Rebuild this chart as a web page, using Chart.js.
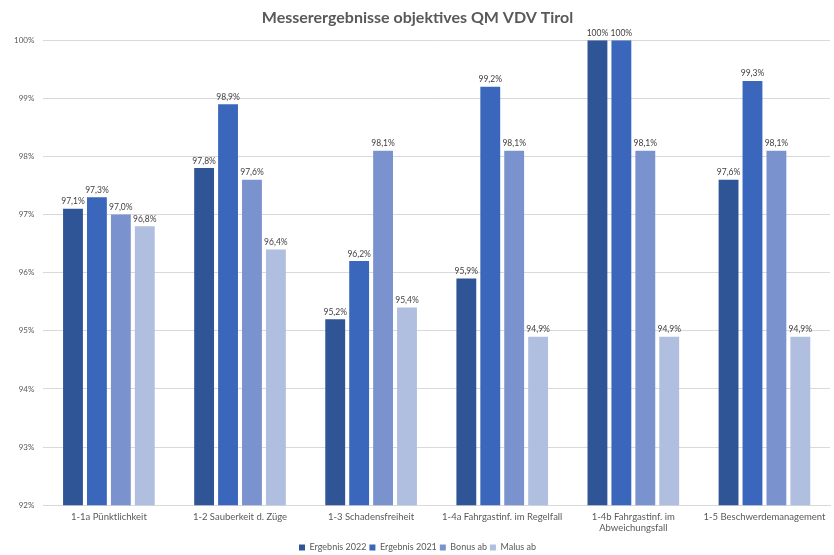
<!DOCTYPE html>
<html>
<head>
<meta charset="utf-8">
<script src="https://cdn.jsdelivr.net/npm/chart.js@4/dist/chart.umd.min.js"></script>
<style>
  html, body { margin: 0; padding: 0; background: #ffffff; }
  #wrap { width: 834px; height: 555px; position: relative; }
</style>
</head>
<body>
<div id="wrap"><canvas id="c"></canvas></div>
<script>
const categories = [
  "1-1a Pünktlichkeit",
  "1-2 Sauberkeit d. Züge",
  "1-3 Schadensfreiheit",
  "1-4a Fahrgastinf. im Regelfall",
  ["1-4b Fahrgastinf. im", "Abweichungsfall"],
  "1-5 Beschwerdemanagement"
];
const seriesNames = ["Ergebnis 2022", "Ergebnis 2021", "Bonus ab", "Malus ab"];
const ergebnis2022 = [97.1, 97.8, 95.2, 95.9, 100, 97.6];
const ergebnis2021 = [97.3, 98.9, 96.2, 99.2, 100, 99.3];
const bonusAb = [97.0, 97.6, 98.1, 98.1, 98.1, 98.1];
const malusAb = [96.8, 96.4, 95.4, 94.9, 94.9, 94.9];
const yTicks = [92, 93, 94, 95, 96, 97, 98, 99, 100];

const colors = ["#2F5597", "#3A67BB", "#7A92CE", "#B0BEE0"];
const FONT = "Lato, 'Open Sans', sans-serif";

// 100 is shown without decimals, everything else with one decimal and a comma
function fmt(v) {
  return (v === 100 ? "100" : v.toFixed(1).replace(".", ",")) + "%";
}

const valueLabels = {
  id: "valueLabels",
  afterDatasetsDraw(chart) {
    const ctx = chart.ctx;
    ctx.save();
    ctx.font = "8.5px " + FONT;
    ctx.fillStyle = "#404040";
    ctx.textAlign = "center";
    ctx.textBaseline = "bottom";
    chart.data.datasets.forEach((ds, i) => {
      chart.getDatasetMeta(i).data.forEach((bar, j) => {
        ctx.fillText(fmt(ds.data[j]), bar.x, bar.y - 3);
      });
    });
    ctx.restore();
  }
};

const seriesData = [ergebnis2022, ergebnis2021, bonusAb, malusAb];

new Chart(document.getElementById("c"), {
  type: "bar",
  data: {
    labels: categories,
    datasets: seriesNames.map((name, i) => ({
      label: name,
      data: seriesData[i],
      backgroundColor: colors[i],
      borderWidth: 0,
      barPercentage: 0.83,
      categoryPercentage: 0.73
    }))
  },
  options: {
    responsive: true,
    maintainAspectRatio: false,
    animation: false,
    layout: { padding: { left: 5, right: 4, top: 0, bottom: -7 } },
    plugins: {
      title: {
        display: true,
        text: "Messerergebnisse objektives QM VDV Tirol",
        color: "#595959",
        font: { family: FONT, size: 16, weight: "bold" },
        padding: { top: 8, bottom: 13 }
      },
      legend: {
        position: "bottom",
        labels: {
          color: "#595959",
          font: { family: FONT, size: 9 },
          boxWidth: 6,
          boxHeight: 6,
          padding: 3
        }
      },
      tooltip: { enabled: false }
    },
    scales: {
      x: {
        grid: { display: false, drawTicks: false },
        border: { color: "#d9d9d9" },
        ticks: {
          color: "#595959",
          font: { family: FONT, size: 9.5 },
          padding: 6,
          maxRotation: 0,
          autoSkip: false
        }
      },
      y: {
        min: 92,
        max: 100,
        afterBuildTicks(axis) {
          axis.ticks = yTicks.map(v => ({ value: v }));
        },
        grid: { color: "#d9d9d9", drawTicks: false },
        border: { display: false },
        ticks: {
          color: "#595959",
          font: { family: FONT, size: 8 },
          padding: 9,
          callback: v => v + "%"
        }
      }
    }
  },
  plugins: [valueLabels]
});
</script>
</body>
</html>
